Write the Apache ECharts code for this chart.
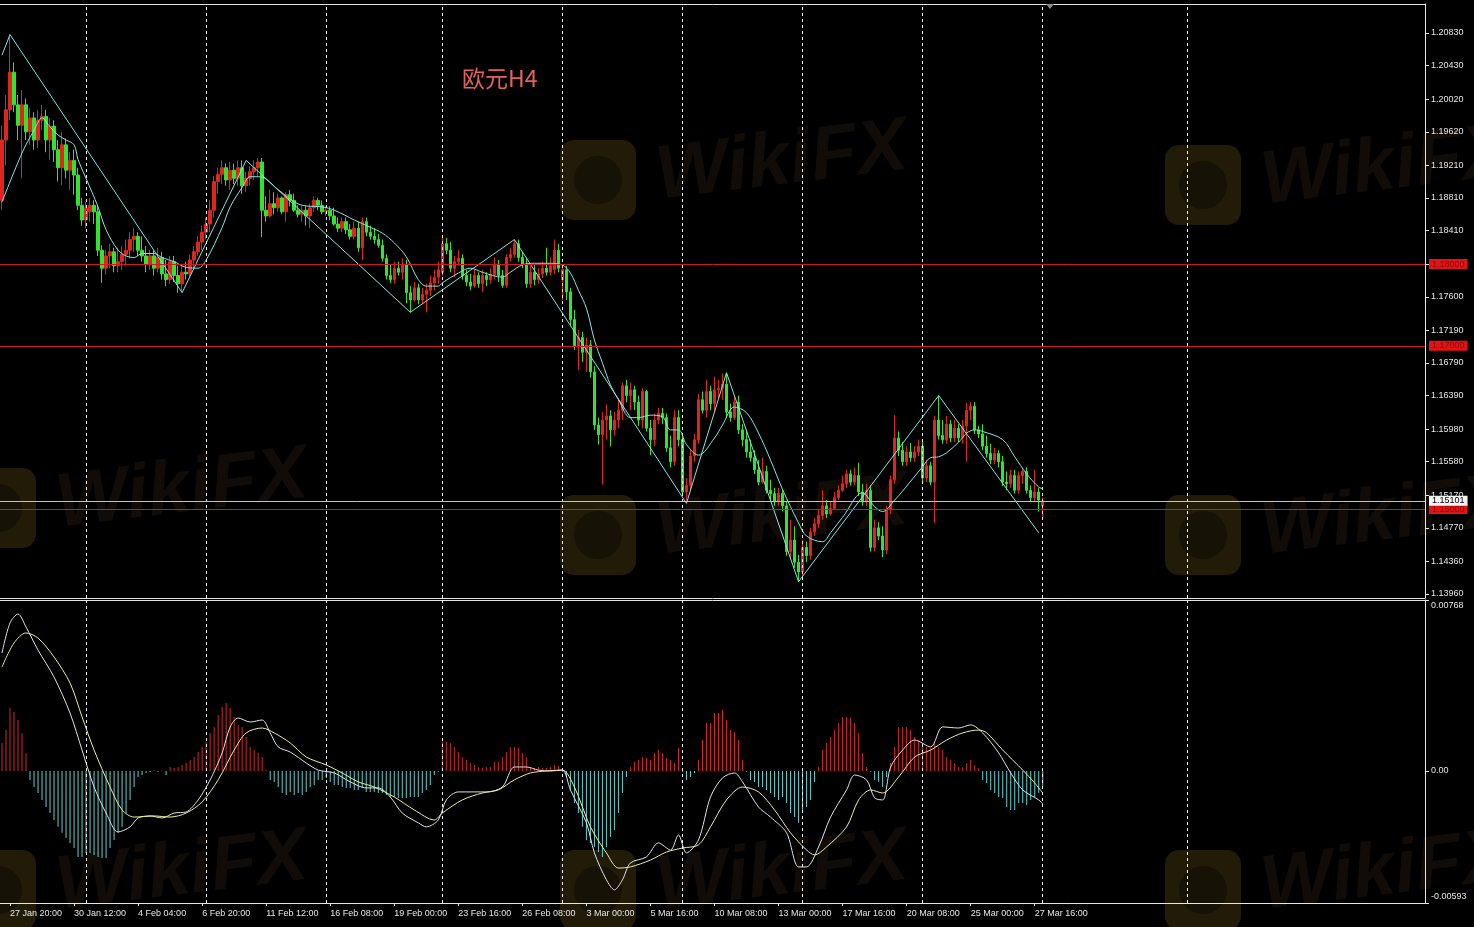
<!DOCTYPE html>
<html><head><meta charset="utf-8">
<script src="https://cdn.jsdelivr.net/npm/echarts@6/dist/echarts.min.js"></script>
<style>html,body{margin:0;padding:0;background:#000;}#c{width:1474px;height:927px;}</style>
</head><body><div id="c"></div>
<script>
// ---- Time axis ----
const barSlots = 356;
const xLabelBars = [2,18,34,50,66,82,98,114,130,146,162,178,194,210,226,242,258];
const xLabelText = ['27 Jan 20:00','30 Jan 12:00','4 Feb 04:00','6 Feb 20:00','11 Feb 12:00','16 Feb 08:00','19 Feb 00:00','23 Feb 16:00','26 Feb 08:00','3 Mar 00:00','5 Mar 16:00','10 Mar 08:00','13 Mar 00:00','17 Mar 16:00','20 Mar 08:00','25 Mar 00:00','27 Mar 16:00'];
const separatorBars = [21,51,81,110,140,170,200,230,260,296];

// ---- Price ticks / levels ----
const priceTicks = [1.1396,1.1436,1.1477,1.1517,1.1558,1.1598,1.1639,1.1679,1.1719,1.1760,1.1800,1.1841,1.1881,1.1921,1.1962,1.2002,1.2043,1.2083];
const priceMin = 1.13911, priceMax = 1.21185;
const redLevels = [1.18, 1.17, 1.15];
const bidPrice = 1.15101;
const macdTicks = [0.00768, 0, -0.00593];

// ---- EURUSD H4 candles ----
const opens = [
1.1878,1.1952,1.1989,1.2035,1.1995,1.1970,1.1995,1.1962,1.1979,1.1952,
1.1976,1.1981,1.1952,1.1969,1.1940,1.1918,1.1946,1.1915,1.1927,1.1909,
1.1872,1.1854,1.1864,1.1872,1.1864,1.1817,1.1795,1.1810,1.1815,1.1798,
1.1803,1.1812,1.1817,1.1830,1.1834,1.1817,1.1810,1.1800,1.1810,1.1795,
1.1808,1.1788,1.1781,1.1803,1.1786,1.1776,1.1790,1.1788,1.1805,1.1815,
1.1827,1.1839,1.1849,1.1866,1.1901,1.1910,1.1918,1.1903,1.1915,1.1905,
1.1918,1.1896,1.1905,1.1913,1.1918,1.1925,1.1866,1.1859,1.1874,1.1869,
1.1881,1.1864,1.1885,1.1878,1.1866,1.1861,1.1866,1.1859,1.1869,1.1878,
1.1872,1.1864,1.1866,1.1859,1.1849,1.1844,1.1852,1.1842,1.1834,1.1844,
1.1820,1.1852,1.1839,1.1834,1.1830,1.1823,1.1807,1.1786,1.1781,1.1795,
1.1790,1.1800,1.1765,1.1756,1.1771,1.1756,1.1763,1.1768,1.1777,1.1784,
1.1790,1.1825,1.1817,1.1795,1.1803,1.1807,1.1786,1.1778,1.1773,1.1786,
1.1776,1.1786,1.1781,1.1787,1.1800,1.1786,1.1774,1.1808,1.1812,1.1825,
1.1808,1.1800,1.1776,1.1790,1.1781,1.1788,1.1795,1.1790,1.1793,1.1817,
1.1781,1.1793,1.1766,1.1732,1.1700,1.1710,1.1692,1.1701,1.1668,1.1603,
1.1591,1.1609,1.1614,1.1597,1.1609,1.1621,1.1651,1.1639,1.1646,1.1631,
1.1609,1.1644,1.1599,1.1585,1.1609,1.1617,1.1612,1.1575,1.1558,1.1612,
1.1585,1.1521,1.1529,1.1565,1.1585,1.1634,1.1621,1.1644,1.1629,1.1646,
1.1648,1.1653,1.1619,1.1612,1.1631,1.1597,1.1585,1.1570,1.1563,1.1548,
1.1533,1.1546,1.1523,1.1519,1.1509,1.1519,1.1504,1.1448,1.1462,1.1435,
1.1423,1.1453,1.1443,1.1472,1.1482,1.1492,1.1504,1.1494,1.1501,1.1514,
1.1523,1.1531,1.1543,1.1533,1.1541,1.1521,1.1509,1.1523,1.1453,1.1477,
1.1467,1.1450,1.1499,1.1536,1.1587,1.1572,1.1558,1.1570,1.1563,1.1570,
1.1577,1.1538,1.1553,1.1533,1.1609,1.1590,1.1585,1.1604,1.1587,1.1599,
1.1587,1.1602,1.1621,1.1626,1.1597,1.1592,1.1577,1.1568,1.1560,1.1568,
1.1558,1.1533,1.1531,1.1541,1.1523,1.1541,1.1546,1.1523,1.1514,1.1521,
1.1504];
const closes = [
1.1952,1.1989,1.2035,1.1995,1.1970,1.1995,1.1962,1.1979,1.1952,1.1976,
1.1981,1.1952,1.1969,1.1940,1.1918,1.1946,1.1915,1.1927,1.1909,1.1872,
1.1854,1.1869,1.1872,1.1864,1.1817,1.1795,1.1810,1.1815,1.1798,1.1803,
1.1812,1.1817,1.1830,1.1834,1.1817,1.1810,1.1800,1.1810,1.1795,1.1808,
1.1788,1.1781,1.1803,1.1786,1.1776,1.1790,1.1788,1.1805,1.1815,1.1827,
1.1839,1.1849,1.1866,1.1901,1.1910,1.1918,1.1903,1.1915,1.1905,1.1918,
1.1896,1.1905,1.1913,1.1918,1.1925,1.1866,1.1859,1.1874,1.1869,1.1881,
1.1864,1.1885,1.1878,1.1866,1.1861,1.1866,1.1859,1.1869,1.1878,1.1872,
1.1864,1.1866,1.1859,1.1849,1.1844,1.1852,1.1842,1.1834,1.1844,1.1820,
1.1852,1.1839,1.1834,1.1830,1.1823,1.1807,1.1786,1.1781,1.1795,1.1790,
1.1800,1.1765,1.1756,1.1771,1.1756,1.1763,1.1768,1.1777,1.1784,1.1793,
1.1825,1.1817,1.1795,1.1803,1.1807,1.1786,1.1778,1.1773,1.1786,1.1776,
1.1786,1.1781,1.1787,1.1800,1.1786,1.1774,1.1808,1.1812,1.1825,1.1808,
1.1800,1.1776,1.1790,1.1781,1.1788,1.1795,1.1790,1.1798,1.1817,1.1795,
1.1793,1.1766,1.1732,1.1700,1.1710,1.1692,1.1701,1.1668,1.1603,1.1591,
1.1609,1.1614,1.1597,1.1609,1.1621,1.1651,1.1639,1.1646,1.1631,1.1609,
1.1644,1.1599,1.1585,1.1609,1.1617,1.1612,1.1575,1.1558,1.1612,1.1585,
1.1521,1.1529,1.1565,1.1585,1.1634,1.1621,1.1644,1.1629,1.1646,1.1648,
1.1653,1.1619,1.1612,1.1631,1.1597,1.1585,1.1570,1.1563,1.1548,1.1533,
1.1546,1.1523,1.1519,1.1509,1.1519,1.1504,1.1448,1.1462,1.1435,1.1423,
1.1453,1.1443,1.1472,1.1482,1.1492,1.1504,1.1494,1.1501,1.1514,1.1523,
1.1531,1.1543,1.1533,1.1541,1.1521,1.1509,1.1523,1.1453,1.1477,1.1467,
1.1450,1.1499,1.1536,1.1587,1.1572,1.1558,1.1570,1.1563,1.1570,1.1577,
1.1538,1.1553,1.1533,1.1609,1.1590,1.1585,1.1604,1.1587,1.1599,1.1587,
1.1602,1.1621,1.1626,1.1597,1.1592,1.1577,1.1568,1.1560,1.1568,1.1558,
1.1533,1.1531,1.1541,1.1523,1.1541,1.1546,1.1523,1.1514,1.1521,1.1511,
1.1510];
const lows = [
1.1866,1.1921,1.1976,1.1986,1.1952,1.1905,1.1952,1.1946,1.1940,1.1942,
1.1964,1.1937,1.1928,1.1925,1.1901,1.1897,1.1905,1.1891,1.1885,1.1866,
1.1847,1.1844,1.1852,1.1849,1.1810,1.1777,1.1787,1.1795,1.1790,1.1790,
1.1793,1.1798,1.1807,1.1815,1.1810,1.1803,1.1790,1.1793,1.1786,1.1790,
1.1781,1.1773,1.1776,1.1778,1.1765,1.1766,1.1781,1.1783,1.1795,1.1810,
1.1817,1.1830,1.1839,1.1857,1.1886,1.1898,1.1896,1.1891,1.1898,1.1896,
1.1886,1.1888,1.1896,1.1903,1.1908,1.1833,1.1852,1.1857,1.1861,1.1864,
1.1861,1.1852,1.1871,1.1864,1.1857,1.1852,1.1847,1.1844,1.1864,1.1866,
1.1861,1.1859,1.1854,1.1847,1.1839,1.1839,1.1837,1.1830,1.1830,1.1815,
1.1805,1.1834,1.1830,1.1825,1.1820,1.1803,1.1781,1.1777,1.1776,1.1786,
1.1781,1.1752,1.1741,1.1754,1.1751,1.1751,1.1741,1.1761,1.1768,1.1776,
1.1786,1.1812,1.1790,1.1784,1.1798,1.1781,1.1773,1.1768,1.1771,1.1771,
1.1766,1.1773,1.1776,1.1781,1.1778,1.1771,1.1771,1.1803,1.1808,1.1803,
1.1795,1.1771,1.1771,1.1774,1.1776,1.1783,1.1786,1.1786,1.1788,1.1790,
1.1756,1.1756,1.1724,1.1695,1.1670,1.1680,1.1668,1.1661,1.1597,1.1579,
1.1530,1.1585,1.1577,1.1590,1.1599,1.1609,1.1631,1.1621,1.1621,1.1602,
1.1599,1.1595,1.1566,1.1577,1.1604,1.1604,1.1570,1.1551,1.1553,1.1577,
1.1516,1.1508,1.1523,1.1558,1.1580,1.1617,1.1612,1.1621,1.1619,1.1636,
1.1634,1.1612,1.1607,1.1609,1.1592,1.1577,1.1563,1.1558,1.1543,1.1529,
1.1531,1.1519,1.1511,1.1504,1.1504,1.1497,1.1443,1.1438,1.1428,1.1411,
1.1413,1.1435,1.1438,1.1467,1.1477,1.1487,1.1489,1.1492,1.1499,1.1511,
1.1521,1.1526,1.1529,1.1529,1.1516,1.1504,1.1504,1.1448,1.1448,1.1462,
1.1441,1.1445,1.1494,1.1531,1.1565,1.1553,1.1553,1.1558,1.1558,1.1565,
1.1533,1.1533,1.1529,1.1483,1.1585,1.1580,1.1580,1.1582,1.1582,1.1582,
1.1580,1.1558,1.1609,1.1592,1.1587,1.1572,1.1563,1.1555,1.1555,1.1551,
1.1528,1.1523,1.1526,1.1519,1.1519,1.1531,1.1519,1.1509,1.1509,1.1497,
1.1489];
const highs = [
1.1970,1.2007,1.2081,1.2047,1.2007,1.2013,1.2003,1.1991,1.1986,1.1989,
1.1995,1.1989,1.1979,1.1976,1.1952,1.1962,1.1954,1.1937,1.1940,1.1918,
1.1881,1.1876,1.1881,1.1878,1.1872,1.1823,1.1817,1.1825,1.1820,1.1820,
1.1822,1.1830,1.1839,1.1844,1.1839,1.1834,1.1822,1.1817,1.1817,1.1820,
1.1815,1.1805,1.1810,1.1810,1.1798,1.1798,1.1803,1.1812,1.1822,1.1834,
1.1847,1.1857,1.1878,1.1908,1.1918,1.1927,1.1923,1.1925,1.1923,1.1927,
1.1927,1.1913,1.1920,1.1927,1.1930,1.1930,1.1883,1.1891,1.1888,1.1886,
1.1883,1.1888,1.1891,1.1886,1.1872,1.1871,1.1871,1.1874,1.1883,1.1881,
1.1878,1.1871,1.1871,1.1869,1.1857,1.1857,1.1857,1.1849,1.1852,1.1852,
1.1857,1.1857,1.1847,1.1844,1.1837,1.1830,1.1812,1.1800,1.1803,1.1803,
1.1807,1.1805,1.1773,1.1778,1.1776,1.1771,1.1776,1.1786,1.1793,1.1803,
1.1834,1.1832,1.1827,1.1810,1.1817,1.1812,1.1793,1.1788,1.1793,1.1790,
1.1793,1.1790,1.1795,1.1808,1.1805,1.1793,1.1812,1.1820,1.1830,1.1830,
1.1815,1.1808,1.1798,1.1800,1.1795,1.1803,1.1820,1.1808,1.1830,1.1825,
1.1798,1.1798,1.1771,1.1744,1.1719,1.1717,1.1710,1.1707,1.1675,1.1612,
1.1619,1.1628,1.1621,1.1619,1.1634,1.1655,1.1658,1.1655,1.1651,1.1639,
1.1648,1.1646,1.1609,1.1617,1.1624,1.1624,1.1617,1.1590,1.1621,1.1621,
1.1590,1.1538,1.1572,1.1592,1.1641,1.1644,1.1658,1.1651,1.1662,1.1658,
1.1666,1.1667,1.1629,1.1639,1.1639,1.1604,1.1597,1.1585,1.1572,1.1560,
1.1563,1.1553,1.1536,1.1526,1.1526,1.1524,1.1509,1.1487,1.1479,1.1444,
1.1462,1.1460,1.1477,1.1489,1.1499,1.1523,1.1511,1.1509,1.1521,1.1529,
1.1541,1.1548,1.1548,1.1551,1.1557,1.1531,1.1531,1.1529,1.1487,1.1484,
1.1479,1.1504,1.1541,1.1615,1.1595,1.1582,1.1577,1.1581,1.1577,1.1585,
1.1585,1.1560,1.1558,1.1614,1.1639,1.1609,1.1614,1.1609,1.1609,1.1604,
1.1609,1.1630,1.1631,1.1631,1.1602,1.1604,1.1590,1.1580,1.1575,1.1572,
1.1565,1.1546,1.1548,1.1548,1.1546,1.1551,1.1551,1.1529,1.1548,1.1526,
1.1514];

// ---- Moving average (cyan, read at points) ----
const maPts = [[0,1.1876],[5,1.1936],[8,1.1964],[10,1.1979],[12,1.1968],[14,1.1958],[16,1.1952],[18,1.1946],[19,1.1928],[21,1.1905],[24,1.1870],[26,1.1842],[29,1.1817],[31,1.1810],[33,1.1808],[35,1.1813],[38,1.1813],[40,1.1808],[43,1.1803],[46,1.1796],[49,1.1795],[51,1.1805],[55,1.1845],[57,1.1870],[60,1.1894],[62,1.1907],[64,1.1907],[66,1.1904],[69,1.1891],[75,1.1872],[80,1.1870],[83,1.1866],[88,1.1854],[92,1.1845],[95,1.1838],[98,1.1826],[101,1.1809],[104,1.1781],[106,1.1773],[109,1.1773],[110,1.1777],[114,1.1789],[117,1.1795],[120,1.1790],[125,1.1784],[127,1.1790],[130,1.1799],[133,1.1801],[137,1.1801],[140,1.1799],[142,1.1789],[144,1.1768],[146,1.1746],[148,1.1707],[150,1.1679],[152,1.1652],[154,1.1634],[157,1.1612],[159,1.1612],[162,1.1615],[165,1.1613],[167,1.1597],[169,1.1597],[171,1.1579],[174,1.1566],[178,1.1587],[180,1.1603],[183,1.1625],[186,1.1618],[189,1.1593],[192,1.1560],[195,1.1524],[199,1.1483],[201,1.1467],[205,1.1460],[207,1.1471],[210,1.1490],[215,1.1520],[218,1.1503],[220,1.1497],[223,1.1511],[225,1.1522],[230,1.1552],[232,1.1563],[234,1.1564],[236,1.1569],[239,1.1582],[241,1.1593],[243,1.1597],[245,1.1595],[250,1.1585],[253,1.1564],[256,1.1543],[259,1.1527],[260,1.1525]];

// ---- ZigZag pivots ----
const zigzagPts = [[0,1.2056],[2,1.2081],[45,1.1765],[61,1.1927],[102,1.1741],[128,1.1830],[171,1.1507],[181,1.1667],[199,1.1411],[234,1.1639],[259,1.1471]];

// ---- MACD panel ----
const hist = [
0.00126,0.00184,0.00283,0.00265,0.00229,0.00171,0.00081,-0.00040,-0.00072,-0.00099,
-0.00130,-0.00162,-0.00189,-0.00220,-0.00251,-0.00278,-0.00301,-0.00323,-0.00346,-0.00386,
-0.00386,-0.00368,-0.00368,-0.00377,-0.00386,-0.00391,-0.00391,-0.00346,-0.00310,-0.00278,
-0.00251,-0.00189,-0.00130,-0.00072,-0.00027,-0.00018,-0.00009,-0.00005,0.00003,-0.00004,
0.00002,-0.00018,0.00018,0.00013,0.00018,0.00027,0.00036,0.00049,0.00063,0.00085,
0.00108,0.00130,0.00171,0.00198,0.00251,0.00287,0.00305,0.00283,0.00243,0.00207,
0.00198,0.00153,0.00108,0.00094,0.00081,0.00063,0.00004,-0.00040,-0.00049,-0.00072,
-0.00099,-0.00108,-0.00094,-0.00108,-0.00099,-0.00108,-0.00094,-0.00072,-0.00063,-0.00040,
-0.00040,-0.00031,-0.00049,-0.00063,-0.00063,-0.00072,-0.00076,-0.00076,-0.00085,-0.00085,
-0.00076,-0.00094,-0.00094,-0.00094,-0.00099,-0.00099,-0.00108,-0.00117,-0.00117,-0.00121,
-0.00121,-0.00121,-0.00117,-0.00117,-0.00117,-0.00099,-0.00085,-0.00063,-0.00018,-0.00004,
0.00139,0.00130,0.00126,0.00108,0.00085,0.00063,0.00049,0.00036,0.00027,0.00018,
0.00013,0.00018,0.00018,0.00040,0.00040,0.00063,0.00085,0.00108,0.00108,0.00103,
0.00081,0.00063,0.00018,0.00013,0.00018,0.00013,0.00013,0.00018,0.00027,0.00022,
-0.00004,-0.00027,-0.00085,-0.00144,-0.00189,-0.00251,-0.00310,-0.00323,-0.00341,-0.00364,
-0.00386,-0.00341,-0.00296,-0.00265,-0.00189,-0.00099,-0.00027,0.00018,0.00040,0.00049,
0.00063,0.00058,0.00049,0.00081,0.00094,0.00081,0.00058,0.00049,0.00036,0.00103,
-0.00004,-0.00040,-0.00027,-0.00009,0.00049,0.00139,0.00216,0.00216,0.00260,0.00260,
0.00274,0.00229,0.00184,0.00175,0.00139,0.00049,-0.00004,-0.00040,-0.00049,-0.00072,
-0.00072,-0.00085,-0.00099,-0.00117,-0.00130,-0.00117,-0.00144,-0.00189,-0.00207,-0.00233,
-0.00189,-0.00162,-0.00130,-0.00049,0.00018,0.00094,0.00126,0.00153,0.00184,0.00216,
0.00243,0.00243,0.00238,0.00216,0.00171,0.00081,0.00018,-0.00004,-0.00040,-0.00049,
-0.00072,-0.00027,0.00036,0.00108,0.00198,0.00198,0.00198,0.00184,0.00153,0.00139,
0.00126,0.00108,0.00103,0.00126,0.00108,0.00094,0.00063,0.00049,0.00036,0.00018,
0.00018,0.00036,0.00049,0.00027,0.00013,-0.00040,-0.00054,-0.00085,-0.00099,-0.00117,
-0.00121,-0.00162,-0.00175,-0.00175,-0.00144,-0.00144,-0.00153,-0.00130,-0.00117,-0.00099,
-0.00072];
const macdPts = [[0,0.00530],[2,0.00665],[4,0.00705],[6,0.00647],[9,0.00543],[13,0.00422],[17,0.00260],[20,0.00094],[23,-0.00072],[26,-0.00189],[29,-0.00274],[32,-0.00251],[34,-0.00211],[37,-0.00202],[40,-0.00211],[43,-0.00189],[46,-0.00184],[49,-0.00130],[52,-0.00040],[55,0.00081],[57,0.00198],[59,0.00238],[62,0.00220],[65,0.00229],[67,0.00171],[69,0.00108],[72,0.00085],[76,0.00036],[79,0.00004],[83,-0.00009],[87,-0.00049],[91,-0.00076],[94,-0.00076],[97,-0.00117],[100,-0.00189],[104,-0.00233],[106,-0.00251],[109,-0.00220],[111,-0.00130],[114,-0.00094],[118,-0.00094],[121,-0.00094],[125,-0.00072],[128,0.00018],[131,0.00018],[134,0.00004],[137,0.00000],[140,0.00004],[142,-0.00085],[146,-0.00233],[148,-0.00368],[151,-0.00489],[153,-0.00534],[155,-0.00489],[157,-0.00413],[161,-0.00386],[164,-0.00323],[167,-0.00355],[169,-0.00287],[171,-0.00368],[174,-0.00310],[177,-0.00117],[180,-0.00031],[183,-0.00009],[185,-0.00049],[189,-0.00162],[192,-0.00207],[196,-0.00278],[199,-0.00431],[201,-0.00431],[204,-0.00341],[207,-0.00207],[211,-0.00085],[213,-0.00018],[216,-0.00040],[218,-0.00121],[220,-0.00130],[222,0.00018],[225,0.00094],[228,0.00139],[232,0.00108],[235,0.00198],[239,0.00193],[242,0.00207],[245,0.00171],[249,0.00081],[252,-0.00009],[255,-0.00085],[259,-0.00130],[260,-0.00148]];
const signalPts = [[0,0.00467],[3,0.00575],[6,0.00620],[9,0.00597],[13,0.00512],[17,0.00395],[20,0.00243],[23,0.00094],[27,-0.00072],[30,-0.00175],[33,-0.00207],[38,-0.00202],[42,-0.00207],[46,-0.00189],[50,-0.00139],[54,-0.00040],[58,0.00094],[61,0.00171],[65,0.00193],[68,0.00171],[72,0.00126],[76,0.00063],[81,0.00027],[85,-0.00009],[89,-0.00049],[93,-0.00072],[98,-0.00117],[103,-0.00175],[108,-0.00220],[110,-0.00189],[115,-0.00130],[120,-0.00099],[124,-0.00085],[128,-0.00040],[132,-0.00009],[136,0.00000],[140,0.00004],[143,-0.00072],[147,-0.00251],[151,-0.00368],[154,-0.00436],[157,-0.00431],[162,-0.00400],[166,-0.00364],[170,-0.00346],[174,-0.00332],[177,-0.00251],[181,-0.00130],[185,-0.00072],[189,-0.00094],[193,-0.00175],[197,-0.00278],[201,-0.00355],[203,-0.00377],[206,-0.00341],[211,-0.00251],[214,-0.00130],[217,-0.00085],[220,-0.00099],[224,-0.00027],[228,0.00063],[232,0.00094],[236,0.00139],[240,0.00171],[244,0.00184],[246,0.00171],[250,0.00094],[255,0.00004],[258,-0.00054],[260,-0.00099]];

// ---- build ----
const categories = [];
for (let i = 0; i < barSlots; i++) categories.push('b' + i);
xLabelBars.forEach((b, k) => { categories[b] = xLabelText[k]; });
const labelSet = new Set(xLabelBars);
const ohlc = opens.map((o, i) => [o, closes[i], lows[i], highs[i]]);

const AX = '#e6e6e6';
const FONT = 'Liberation Sans';
const UP = '#e3241e', DOWN = '#2fe52f';

const sepLines = separatorBars.map(b => ({ xAxis: b, lineStyle: { color: '#f0f0f0', type: [3, 3], width: 1 }, label: { show: false } }));
const levelLines = redLevels.map(v => ({
  yAxis: v, lineStyle: { color: '#cc1c1c', type: 'solid', width: 1 },
  label: { show: true, position: 'end', formatter: v.toFixed(5), color: '#8c0a0a', backgroundColor: '#e01414', padding: [1, 3, 0, 3], fontSize: 9, fontFamily: FONT, distance: 4 }
}));
const bidLine = {
  yAxis: bidPrice, lineStyle: { color: '#b8c4d0', type: 'solid', width: 1 },
  label: { show: true, position: 'end', formatter: bidPrice.toFixed(5), color: '#000', backgroundColor: '#f2f2f2', padding: [1, 3, 0, 3], fontSize: 9, fontFamily: FONT, distance: 4 }
};

// decorative watermarks
const wmSpots = [[560,140],[1165,145],[-40,468],[560,495],[1165,495],[-40,850],[560,850],[1165,850]];
const graphics = [];
wmSpots.forEach(([x, y]) => {
  graphics.push({ type: 'rect', left: x, top: y, shape: { width: 76, height: 80, r: 14 }, style: { fill: '#211b08' }, z: 0, silent: true });
  graphics.push({ type: 'circle', left: x + 14, top: y + 16, shape: { r: 24 }, style: { fill: '#161205' }, z: 0, silent: true });
  graphics.push({ type: 'text', left: x + 92, top: y - 30, rotation: 0.12, style: { text: 'WikiFX', fill: '#120c08', font: 'italic bold 76px "Liberation Sans"' }, z: 0, silent: true });
});
graphics.push({ type: 'polygon', shape: { points: [[1046, 4], [1054, 4], [1050, 9]] }, style: { fill: '#8a8a8a' }, z: 10, silent: true });

const frameAxis = (grid, pos) => ({ type: 'category', gridIndex: grid, position: pos, data: categories, boundaryGap: true,
  axisLine: { show: true, onZero: false, lineStyle: { color: AX } }, axisTick: { show: false }, axisLabel: { show: false }, splitLine: { show: false } });

const chart = echarts.init(document.getElementById('c'), null, { renderer: 'canvas', width: 1474, height: 927 });
chart.setOption({
  backgroundColor: '#000000',
  animation: false,
  title: { text: '欧元H4', left: 457, top: 62, textStyle: { color: '#e2645a', fontSize: 23, fontWeight: 'normal', fontFamily: '"Noto Sans CJK SC", sans-serif' } },
  graphic: graphics,
  grid: [
    { left: -1, right: 49, top: 4, height: 594, show: false },
    { left: -1, right: 49, top: 600, height: 303, show: false }
  ],
  xAxis: [
    frameAxis(0, 'bottom'),
    { type: 'category', gridIndex: 1, position: 'bottom', data: categories, boundaryGap: true,
      axisLine: { show: true, onZero: false, lineStyle: { color: AX } },
      axisTick: { show: true, alignWithLabel: true, interval: (i) => labelSet.has(i), length: 3, lineStyle: { color: AX } },
      axisLabel: { show: true, interval: (i) => labelSet.has(i), align: 'left', margin: 6, color: AX, fontSize: 9, fontFamily: FONT },
      splitLine: { show: false } },
    frameAxis(0, 'top'),
    frameAxis(1, 'top')
  ],
  yAxis: [
    { type: 'value', gridIndex: 0, position: 'right', min: priceMin, max: priceMax, scale: true,
      splitLine: { show: false }, axisLine: { show: true, lineStyle: { color: AX } },
      axisTick: { show: true, customValues: priceTicks, length: 4, lineStyle: { color: AX } },
      axisLabel: { show: true, customValues: priceTicks, formatter: (v) => v.toFixed(5), color: AX, fontSize: 9, fontFamily: FONT, margin: 6 } },
    { type: 'value', gridIndex: 1, position: 'right', min: -0.00593, max: 0.00768,
      splitLine: { show: false }, axisLine: { show: true, lineStyle: { color: AX } },
      axisTick: { show: true, customValues: macdTicks, length: 4, lineStyle: { color: AX } },
      axisLabel: { show: true, customValues: macdTicks, margin: 6, color: AX, fontSize: 9, fontFamily: FONT,
        formatter: (v) => v > 0.001 ? '{t|' + v.toFixed(5) + '}' : (v < -0.001 ? '{b|' + v.toFixed(5) + '}' : '0.00'),
        rich: { t: { padding: [12, 0, 0, 0], color: AX, fontSize: 9, fontFamily: FONT }, b: { padding: [0, 0, 12, 0], color: AX, fontSize: 9, fontFamily: FONT } } } }
  ],
  series: [
    { name: 'EURUSD', type: 'candlestick', xAxisIndex: 0, yAxisIndex: 0, data: ohlc, barWidth: 3, z: 2,
      itemStyle: { color: UP, color0: DOWN, borderColor: UP, borderColor0: DOWN, borderWidth: 1 },
      markLine: { silent: true, precision: 5, symbol: ['none', 'none'], animation: false, emphasis: { disabled: true }, label: { show: false },
        data: sepLines.concat(levelLines, [bidLine]) } },
    { name: 'MA', type: 'line', xAxisIndex: 0, yAxisIndex: 0, data: maPts, smooth: 0.35, showSymbol: false, symbol: 'none', z: 3,
      lineStyle: { color: '#86e6e6', width: 1 } },
    { name: 'ZigZag', type: 'line', xAxisIndex: 0, yAxisIndex: 0, data: zigzagPts, smooth: false, showSymbol: false, symbol: 'none', z: 3,
      lineStyle: { color: '#86e6e6', width: 1 } },
    { name: 'Hist', type: 'bar', xAxisIndex: 1, yAxisIndex: 1, data: hist, barWidth: 1, z: 2,
      itemStyle: { color: (p) => p.value >= 0 ? '#d42828' : '#62d0d0' },
      markLine: { silent: true, symbol: ['none', 'none'], animation: false, emphasis: { disabled: true }, label: { show: false }, data: sepLines } },
    { name: 'MACD', type: 'line', xAxisIndex: 1, yAxisIndex: 1, data: macdPts, smooth: 0.3, showSymbol: false, symbol: 'none', z: 3,
      lineStyle: { color: '#dde4ea', width: 1 } },
    { name: 'Signal', type: 'line', xAxisIndex: 1, yAxisIndex: 1, data: signalPts, smooth: 0.3, showSymbol: false, symbol: 'none', z: 3,
      lineStyle: { color: '#eeee9a', width: 1 } }
  ]
});
</script>
</body></html>
